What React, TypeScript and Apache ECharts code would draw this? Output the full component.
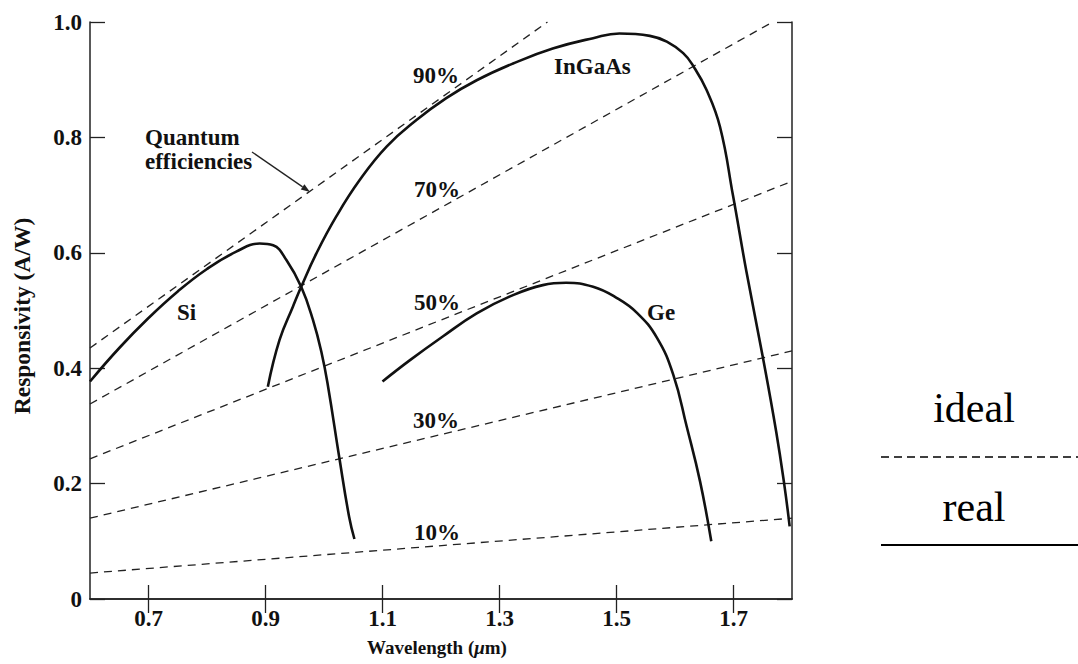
import React, { useEffect, useRef } from "react";
import * as echarts from "echarts";

// ---- Data ----
const xTickValues = [0.7, 0.9, 1.1, 1.3, 1.5, 1.7];

const siWavelength = [0.6, 0.65, 0.7, 0.75, 0.8, 0.85, 0.89, 0.913, 0.936, 0.961, 0.981, 0.996, 1.007, 1.026, 1.043, 1.052];
const siResponsivity = [0.377, 0.435, 0.487, 0.533, 0.572, 0.602, 0.616, 0.613, 0.587, 0.541, 0.484, 0.426, 0.368, 0.246, 0.142, 0.104];

const ingaasWavelength = [0.904, 0.924, 0.947, 0.961, 0.987, 1.021, 1.061, 1.107, 1.158, 1.209, 1.261, 1.323, 1.391, 1.46, 1.505, 1.557, 1.586, 1.614, 1.631, 1.654, 1.677, 1.699, 1.722, 1.75, 1.773, 1.787, 1.796];
const ingaasResponsivity = [0.368, 0.449, 0.507, 0.541, 0.599, 0.663, 0.726, 0.784, 0.83, 0.868, 0.899, 0.928, 0.954, 0.972, 0.98, 0.976, 0.966, 0.946, 0.924, 0.882, 0.818, 0.7, 0.568, 0.42, 0.29, 0.197, 0.126];

const geWavelength = [1.1, 1.147, 1.203, 1.261, 1.317, 1.374, 1.414, 1.46, 1.5, 1.535, 1.569, 1.597, 1.62, 1.643, 1.662];
const geResponsivity = [0.377, 0.414, 0.455, 0.495, 0.524, 0.544, 0.548, 0.541, 0.522, 0.496, 0.453, 0.389, 0.299, 0.203, 0.1];

const efficiencyLabels = ["10%", "30%", "50%", "70%", "90%"];
const efficiencyStartX = [0.6, 0.6, 0.6, 0.6, 0.6];
const efficiencyStartY = [0.045, 0.14, 0.243, 0.338, 0.435];
const efficiencyEndX = [1.8, 1.8, 1.8, 1.767, 1.382];
const efficiencyEndY = [0.14, 0.43, 0.724, 1.0, 1.0];

const FONT = "'Liberation Serif', 'Times New Roman', serif";

function pairs(xs: number[], ys: number[]) {
  return xs.map((x, i) => [x, ys[i]]);
}

export default function App() {
  const ref = useRef<HTMLDivElement>(null);

  useEffect(() => {
    document.body.style.margin = "0";
    if (!ref.current) return;
    const chart = echarts.init(ref.current, undefined, { renderer: "svg" });

    const axisLineStyle = { color: "#222", width: 1.5 };
    const labelStyle = {
      fontFamily: FONT,
      fontWeight: "bold" as const,
      fontSize: 23,
      color: "#111",
    };

    const solid = { color: "#111", width: 2.6 };
    const dashed = { color: "#222", width: 1.3, type: [8, 6] as number[] };

    const efficiencySeries = efficiencyLabels.map((name, i) => ({
      name: "QE " + name,
      type: "line" as const,
      xAxisIndex: 0,
      yAxisIndex: 0,
      data: [
        [efficiencyStartX[i], efficiencyStartY[i]],
        [efficiencyEndX[i], efficiencyEndY[i]],
      ],
      showSymbol: false,
      lineStyle: dashed,
      z: 2,
    }));

    const curve = (name: string, xs: number[], ys: number[]) => ({
      name,
      type: "line" as const,
      xAxisIndex: 0,
      yAxisIndex: 0,
      data: pairs(xs, ys),
      showSymbol: false,
      smooth: 0.45,
      lineStyle: solid,
      z: 3,
    });

    const annot = (text: string, x: number, y: number, size = 23, align = "left") => ({
      type: "text",
      x,
      y,
      style: {
        text,
        fontFamily: FONT,
        fontWeight: "bold",
        fontSize: size,
        fill: "#111",
        align,
        verticalAlign: "middle",
      },
    });

    // arrow geometry (annotation)
    const ax0 = 252, ay0 = 152, ax1 = 310, ay1 = 192;
    const len = Math.hypot(ax1 - ax0, ay1 - ay0);
    const ux = (ax1 - ax0) / len, uy = (ay1 - ay0) / len;
    const nx = -uy, ny = ux;
    const bx = ax1 - 9 * ux, by = ay1 - 9 * uy;

    chart.setOption({
      animation: false,
      backgroundColor: "#fff",
      grid: { left: 90, top: 22, width: 702, height: 577, containLabel: false },
      xAxis: [
        {
          type: "value",
          min: 0.6,
          max: 1.8,
          position: "bottom",
          axisLine: { show: true, lineStyle: axisLineStyle },
          axisTick: { show: true, inside: true, length: 14, customValues: xTickValues, lineStyle: { color: "#222", width: 1.3 } },
          axisLabel: { ...labelStyle, margin: 8, customValues: xTickValues, formatter: (v: number) => v.toFixed(1) },
          splitLine: { show: false },
        },
        {
          type: "value",
          min: 0.6,
          max: 1.8,
          position: "top",
          axisLine: { show: true, lineStyle: axisLineStyle },
          axisTick: { show: true, inside: true, length: 14, customValues: xTickValues, lineStyle: { color: "#222", width: 1.3 } },
          axisLabel: { show: false },
          splitLine: { show: false },
        },
      ],
      yAxis: [
        {
          type: "value",
          min: 0,
          max: 1,
          interval: 0.2,
          position: "left",
          axisLine: { show: true, lineStyle: axisLineStyle },
          axisTick: { show: true, inside: true, length: 15, lineStyle: { color: "#222", width: 1.3 } },
          axisLabel: { ...labelStyle, margin: 8, formatter: (v: number) => (v === 0 ? "0" : v.toFixed(1)) },
          splitLine: { show: false },
        },
        {
          type: "value",
          min: 0,
          max: 1,
          interval: 0.2,
          position: "right",
          axisLine: { show: true, lineStyle: axisLineStyle },
          axisTick: { show: true, inside: true, length: 15, lineStyle: { color: "#222", width: 1.3 } },
          axisLabel: { show: false },
          splitLine: { show: false },
        },
      ],
      series: [
        ...efficiencySeries,
        curve("Si", siWavelength, siResponsivity),
        curve("InGaAs", ingaasWavelength, ingaasResponsivity),
        curve("Ge", geWavelength, geResponsivity),
      ],
      graphic: [
        // axis titles
        {
          type: "text",
          x: 437,
          y: 647,
          style: {
            rich: {
              a: { fontFamily: FONT, fontWeight: "bold", fontSize: 19, fill: "#111" },
              b: { fontFamily: FONT, fontWeight: "bold", fontStyle: "italic", fontSize: 19, fill: "#111" },
            },
            text: "{a|Wavelength (}{b|\u03bc}{a|m)}",
            align: "center",
            verticalAlign: "middle",
          },
        },
        {
          type: "text",
          x: 22,
          y: 316,
          rotation: Math.PI / 2,
          style: {
            text: "Responsivity (A/W)",
            fontFamily: FONT,
            fontWeight: "bold",
            fontSize: 23.5,
            fill: "#111",
            align: "center",
            verticalAlign: "middle",
          },
        },
        // annotations
        annot("90%", 413, 75),
        annot("70%", 414, 189),
        annot("50%", 414, 302),
        annot("30%", 413, 420),
        annot("10%", 414, 532),
        annot("InGaAs", 554, 66),
        annot("Si", 177, 312),
        annot("Ge", 647, 312),
        annot("Quantum", 145, 137),
        annot("efficiencies", 145, 161),
        {
          type: "line",
          shape: { x1: ax0, y1: ay0, x2: bx, y2: by },
          style: { stroke: "#222", lineWidth: 1.3 },
        },
        {
          type: "polygon",
          shape: {
            points: [
              [ax1, ay1],
              [bx + 3.2 * nx, by + 3.2 * ny],
              [bx - 3.2 * nx, by - 3.2 * ny],
            ],
          },
          style: { fill: "#222" },
        },
        // right-hand key
        {
          type: "text",
          x: 974,
          y: 429,
          style: {
            text: "ideal",
            fontFamily: FONT,
            fontSize: 42,
            fill: "#000",
            align: "center",
            verticalAlign: "bottom",
          },
        },
        {
          type: "line",
          shape: { x1: 881, y1: 457, x2: 1078, y2: 457 },
          style: { stroke: "#000", lineWidth: 1.5, lineDash: [8, 5] },
        },
        {
          type: "text",
          x: 974,
          y: 528,
          style: {
            text: "real",
            fontFamily: FONT,
            fontSize: 42,
            fill: "#000",
            align: "center",
            verticalAlign: "bottom",
          },
        },
        {
          type: "line",
          shape: { x1: 881, y1: 545, x2: 1078, y2: 545 },
          style: { stroke: "#000", lineWidth: 2 },
        },
      ],
    });

    return () => chart.dispose();
  }, []);

  return <div ref={ref} style={{ width: 1078, height: 664 }} />;
}
